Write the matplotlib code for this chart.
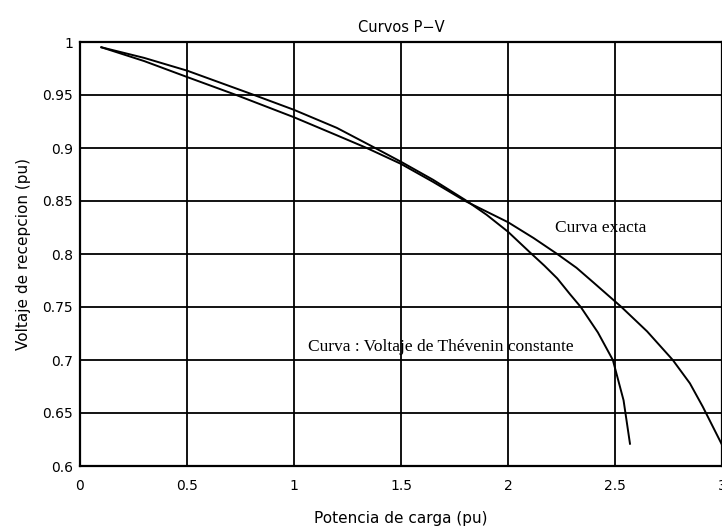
import matplotlib.pyplot as plt
import numpy as np

# curve: constant Thevenin voltage
p_thev = [0.10, 0.30, 0.50, 0.80, 1.00, 1.20, 1.37, 1.50, 1.65, 1.80, 1.90, 2.00, 2.10, 2.17, 2.23, 2.29, 2.34, 2.42, 2.49, 2.54, 2.57]
v_thev = [0.995, 0.985, 0.973, 0.951, 0.936, 0.919, 0.901, 0.887, 0.870, 0.851, 0.837, 0.821, 0.802, 0.789, 0.777, 0.762, 0.750, 0.726, 0.700, 0.662, 0.621]

# exact curve
p_exact = [0.10, 0.30, 0.50, 0.73, 1.00, 1.20, 1.34, 1.50, 1.65, 1.80, 2.00, 2.12, 2.23, 2.32, 2.40, 2.53, 2.65, 2.77, 2.85, 2.91, 3.00]
v_exact = [0.995, 0.982, 0.967, 0.950, 0.929, 0.912, 0.900, 0.885, 0.868, 0.850, 0.830, 0.815, 0.800, 0.787, 0.773, 0.750, 0.727, 0.700, 0.678, 0.656, 0.620]

xticks = [0, 0.5, 1, 1.5, 2, 2.5, 3]
xticklabels = ['0', '0.5', '1', '1.5', '2', '2.5', '3']
yticks = [0.6, 0.65, 0.7, 0.75, 0.8, 0.85, 0.9, 0.95, 1]
yticklabels = ['0.6', '0.65', '0.7', '0.75', '0.8', '0.85', '0.9', '0.95', '1']

fig = plt.figure(figsize=(7.22, 5.32), dpi=100)
ax = fig.add_axes([80/722, 66/532, 642/722, 424/532])

ax.plot(p_thev, v_thev, color='black', linewidth=1.4)
ax.plot(p_exact, v_exact, color='black', linewidth=1.4)

ax.set_xlim(0, 3)
ax.set_ylim(0.6, 1)
ax.set_xticks(xticks)
ax.set_xticklabels(xticklabels)
ax.set_yticks(yticks)
ax.set_yticklabels(yticklabels)
ax.tick_params(length=0, labelsize=10, pad=5)
ax.tick_params(axis='x', pad=9)
ax.grid(True, color='black', linewidth=1.3, linestyle='-')
for s in ax.spines.values():
    s.set_linewidth(1.6)

ax.set_title('Curvos P\u2212V', fontsize=10.5, pad=7)
ax.set_xlabel('Potencia de carga (pu)', fontsize=11, labelpad=13)
ax.set_ylabel('Voltaje de recepcion (pu)', fontsize=11, labelpad=8)

ax.text(2.22, 0.8245, 'Curva exacta', family='Liberation Serif', fontsize=12.5,
        va='center', ha='left')
ax.text(1.065, 0.712, 'Curva : Voltaje de Th\u00e9venin constante', family='Liberation Serif',
        fontsize=12.5, va='center', ha='left')

fig.savefig('out.png', dpi=100)
